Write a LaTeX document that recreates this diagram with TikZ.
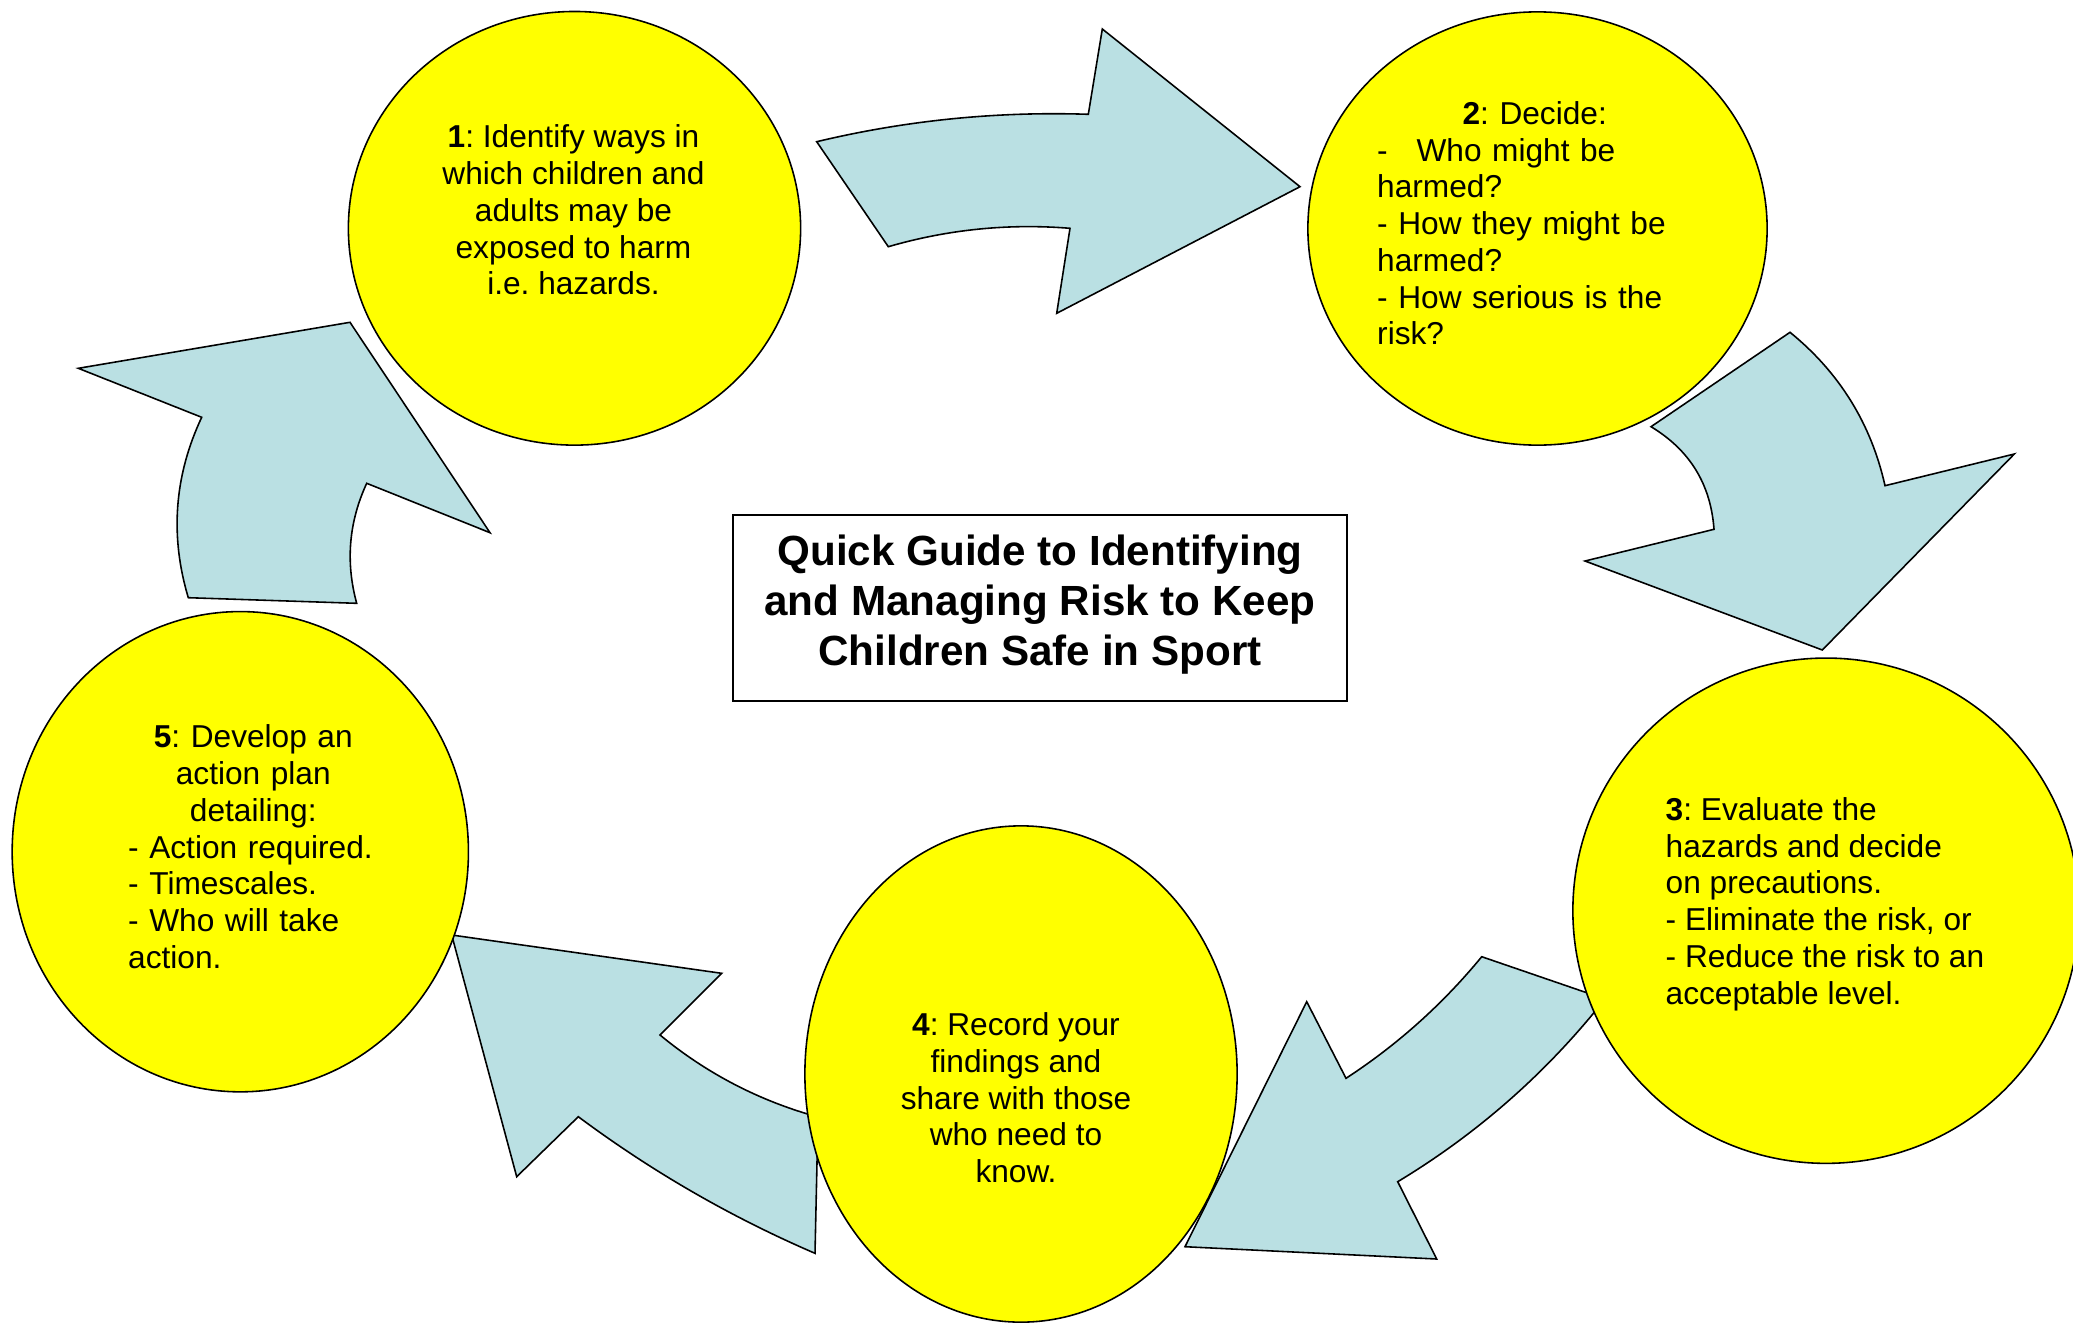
\documentclass[tikz,border=0pt]{standalone}
\usepackage{fontspec}
\setmainfont{Liberation Sans}
\usetikzlibrary{shapes.geometric,calc}
\definecolor{cyellow}{RGB}{255,255,0}
\definecolor{carrow}{RGB}{186,224,227}
\frenchspacing
% quadratic-style curve: from #1 to #3 with quadratic control #2
\tikzset{qcurve/.style n args={3}{insert path={.. controls ($(#1)!0.6667!(#2)$) and ($(#3)!0.6667!(#2)$) .. (#3)}}}
\begin{document}
\begin{tikzpicture}[x=0.01cm,y=-0.01cm,
  bubble/.style={draw=black, fill=cyellow, ellipse, line width=0.45pt, inner sep=0pt},
  blockarrow/.style={draw=black, fill=carrow, line width=0.45pt},
  steptext/.style={font=\fontsize{9}{10.45}\selectfont, inner sep=0pt},
  titlebox/.style={draw=black, fill=white, line width=0.45pt, inner sep=0pt},
  titletext/.style={inner sep=0pt, align=center, font=\fontsize{12}{14.2}\selectfont\bfseries}]
\useasboundingbox (0,0) rectangle (2073,1327);

% block arrows
\draw[blockarrow] (816.7,141.7) [qcurve={816.7,141.7}{950.7,109.7}{1088.3,114.3}] -- (1102.3,29)
  -- (1300,186.7) -- (1056.7,313.3) -- (1070,228.3) [qcurve={1070,228.3}{977.5,220.8}{888.3,246.7}] -- cycle;
\draw[blockarrow] (1651,426.7) -- (1790,332.3) [qcurve={1790,332.3}{1864.1,392.6}{1885,485.7}]
  -- (2014.3,454) -- (1822.3,650) -- (1585,561) -- (1714,529.3) [qcurve={1714,529.3}{1709.1,461.7}{1651,426.7}] -- cycle;
\draw[blockarrow] (1481.7,956.7) [qcurve={1481.7,956.7}{1423.2,1027.9}{1346,1078.3}] -- (1306.7,1001.7)
  -- (1185,1246.7) -- (1436.7,1259) -- (1397.7,1181.7) [qcurve={1397.7,1181.7}{1517.9,1109.2}{1605,999}] -- cycle;
\draw[blockarrow] (451.7,935) -- (721.7,973.3) -- (660,1035) [qcurve={660,1035}{730.2,1092.9}{818,1117}]
  -- (815,1253.3) [qcurve={815,1253.3}{688.7,1198.9}{578.3,1116.7}] -- (516.7,1176.7) -- cycle;
\draw[blockarrow] (350,322.3) -- (490,532.7) -- (366.7,483.3) [qcurve={366.7,483.3}{339.8,541.5}{356.7,603.3}]
  -- (188.3,597.7) [qcurve={188.3,597.7}{160.5,504.9}{201.7,417.3}] -- (78.3,368.3) -- cycle;

% bubbles
\node[bubble, minimum width=4.52cm, minimum height=4.334cm] (c1) at (574.5,228.3) {};
\node[bubble, minimum width=4.59cm, minimum height=4.33cm] (c2) at (1537.5,228.5) {};
\node[bubble, minimum width=5.06cm, minimum height=5.05cm] (c3) at (1826,910.7) {};
\node[bubble, minimum width=4.32cm, minimum height=4.96cm] (c4) at (1021,1074) {};
\node[bubble, minimum width=4.56cm, minimum height=4.8cm] (c5) at (240.3,851.7) {};

% texts
\node[steptext, align=center] (t1) at (573.5,210)
  {\textbf{1}: Identify ways in\\which children and\\adults may be\\exposed to harm\\i.e. hazards.};
\node[steptext, text width=3.148cm, align=left] (t2) at (1534.7,223.3)
  {\makebox[3.148cm][c]{\textbf{2}: Decide:}\\-\hspace{8.2pt}Who might be\\harmed?\\- How they might be\\harmed?\\- How serious is the\\risk?};
\node[steptext, align=left, anchor=west] (t3) at (1665,904)
  {\textbf{3}: Evaluate the\\hazards and decide\\on precautions.\\- Eliminate the risk, or\\- Reduce the risk to an\\acceptable level.};
\node[steptext, align=center] (t4) at (1016,1097.7)
  {\textbf{4}: Record your\\findings and\\share with those\\who need to\\know.};
\node[steptext, text width=2.5cm, align=left] (t5) at (253.3,846.7)
  {\makebox[2.5cm][c]{\textbf{5}: Develop an}\\\makebox[2.5cm][c]{action plan}\\\makebox[2.5cm][c]{detailing:}\\- Action required.\\- Timescales.\\- Who will take\\action.};

% title
\node[titlebox, minimum width=6.14cm, minimum height=1.86cm] (title) at (1040,608) {};
\node[titletext] (titletxt) at (1040,605)
  {Quick Guide to Identifying\\and Managing Risk to Keep\\Children Safe in Sport};
\end{tikzpicture}
\end{document}
